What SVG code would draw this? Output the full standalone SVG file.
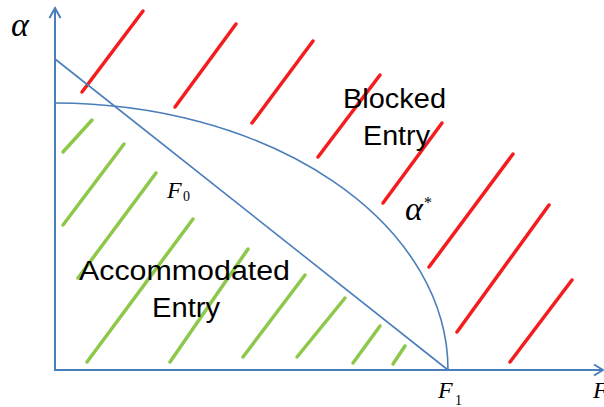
<svg xmlns="http://www.w3.org/2000/svg" width="604" height="407" viewBox="0 0 604 407">
<style>
.ax{stroke:#4a7ebb;stroke-width:2;fill:none}
.cv{stroke:#4a7ebb;stroke-width:1.6;fill:none}
.red{stroke:#f41c1c;stroke-width:3.5;stroke-linecap:round;fill:none}
.grn{stroke:#8dc84a;stroke-width:3.5;stroke-linecap:round;fill:none}
.lab{font-family:"Liberation Sans",Arial,sans-serif;font-size:27px;fill:#000}
.m{font-family:"Liberation Serif","Times New Roman",serif;font-style:italic;fill:#000}
.s{font-family:"Liberation Serif","Times New Roman",serif;fill:#000}
</style>
<rect width="604" height="407" fill="#fff"/>
<g id="hatch-red">
<line class="red" x1="82" y1="92" x2="143" y2="11"/>
<line class="red" x1="175" y1="107" x2="236" y2="24"/>
<line class="red" x1="252" y1="123" x2="313" y2="41"/>
<line class="red" x1="318" y1="157" x2="380" y2="75"/>
<line class="red" x1="383" y1="203" x2="442" y2="123"/>
<line class="red" x1="429" y1="267" x2="513" y2="154"/>
<line class="red" x1="457" y1="332" x2="549" y2="205"/>
<line class="red" x1="510" y1="362" x2="572" y2="280"/>
</g>
<g id="hatch-green">
<line class="grn" x1="63" y1="152" x2="92" y2="120"/>
<line class="grn" x1="63" y1="225" x2="124" y2="144"/>
<line class="grn" x1="78" y1="278" x2="156" y2="173"/>
<line class="grn" x1="87" y1="362" x2="193" y2="219"/>
<line class="grn" x1="170" y1="362" x2="248" y2="249"/>
<line class="grn" x1="243" y1="357" x2="305" y2="275"/>
<line class="grn" x1="297" y1="357" x2="345" y2="298"/>
<line class="grn" x1="353" y1="363" x2="380" y2="326"/>
<line class="grn" x1="393" y1="364" x2="405" y2="346"/>
</g>
<g id="connectors">
<line class="ax" x1="55" y1="371" x2="55" y2="8"/>
<polyline class="ax" points="49.5,18 55,8 60.5,18"/>
<line class="ax" x1="54" y1="370" x2="603" y2="370"/>
<polyline class="ax" points="594,364.5 603,370 594,375.5"/>
<line class="cv" x1="55" y1="59" x2="448" y2="370"/>
<path class="cv" d="M55,103 A393,267 0 0 1 448,370"/>
</g>
<g id="labels">
<text class="m" x="11" y="36" font-size="34">α</text>
<text class="m" x="405" y="220" font-size="34">α</text>
<text class="s" x="424" y="208" font-size="16">*</text>
<text class="m" x="167" y="198" font-size="24">F</text>
<text class="s" x="183" y="201" font-size="14">0</text>
<text class="m" x="438" y="398" font-size="24">F</text>
<text class="s" x="455" y="405" font-size="14">1</text>
<text class="m" x="593" y="398" font-size="24">F</text>
</g>
<g id="region-blocked">
<text class="lab" x="343" y="108" textLength="103" lengthAdjust="spacingAndGlyphs">Blocked</text>
<text class="lab" x="363" y="145" textLength="67" lengthAdjust="spacingAndGlyphs">Entry</text>
</g>
<g id="region-accommodated">
<text class="lab" x="79" y="280" textLength="211" lengthAdjust="spacingAndGlyphs">Accommodated</text>
<text class="lab" x="152" y="317" textLength="68" lengthAdjust="spacingAndGlyphs">Entry</text>
</g>
</svg>
